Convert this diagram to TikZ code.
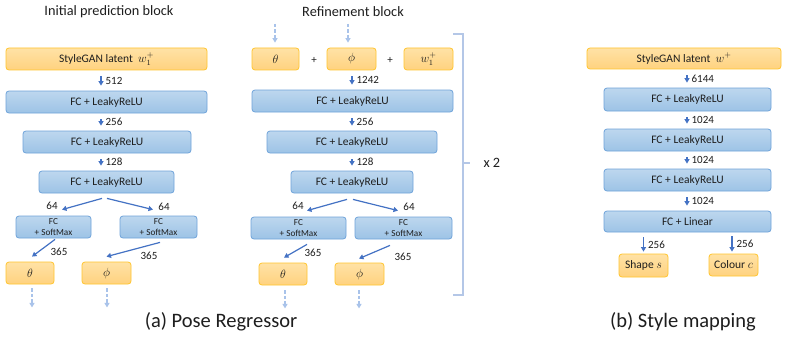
\documentclass[tikz,border=0pt]{standalone}
\usepackage{fontspec}
\setmainfont{Carlito}
\usetikzlibrary{arrows.meta}
\definecolor{bfillT}{HTML}{BDD7EE}
\definecolor{bfillB}{HTML}{9DC3E6}
\definecolor{bdraw}{HTML}{6FA3DA}
\definecolor{ofillT}{HTML}{FFE2A6}
\definecolor{ofillB}{HTML}{FFD27F}
\definecolor{odraw}{HTML}{FFC52E}
\definecolor{arrc}{HTML}{4472C4}
\definecolor{dashc}{HTML}{A9C3EA}
\definecolor{brc}{HTML}{B4C7E7}
\definecolor{txt}{HTML}{1E1E1E}
\tikzset{
  base/.style={rounded corners=3pt, line width=0.8pt, inner sep=0pt, text=txt, font=\fontsize{11.5}{13}\selectfont},
  bbox/.style={base, draw=bdraw, top color=bfillT, bottom color=bfillB},
  obox/.style={base, draw=odraw, top color=ofillT, bottom color=ofillB},
  smbox/.style={bbox, font=\fontsize{9.2}{10.2}\selectfont, align=center},
  arr/.style={draw=arrc, line width=1.2pt, -{Triangle[length=4.5pt,width=5pt]}},
  varr/.style={arr, shorten <=6pt, shorten >=5pt},
  darr/.style={draw=dashc, line width=1.2pt, dash pattern=on 3.5pt off 2pt, -{Triangle[length=4.5pt,width=5pt]}},
  lbl/.style={text=txt, font=\fontsize{11}{13}\selectfont, inner sep=0pt},
  ttl/.style={text=txt, font=\fontsize{14.3}{17}\selectfont},
  captxt/.style={text=txt, font=\fontsize{20.5}{24}\selectfont},
}
\begin{document}
\begin{tikzpicture}[x=1pt,y=-1pt]
\useasboundingbox[fill=white] (0,0) rectangle (787,337);

% ---------- Initial prediction block ----------
\node[ttl] (t1) at (109,12) {Initial prediction block};
\node[obox, minimum width=201pt, minimum height=22pt] (lat1) at (106.5,59) {StyleGAN latent \ $w_1^+$};
\node[bbox, minimum width=201pt, minimum height=22pt] (fc1a) at (106.5,102) {FC + LeakyReLU};
\node[bbox, minimum width=168pt, minimum height=22pt] (fc2a) at (107,142) {FC + LeakyReLU};
\node[bbox, minimum width=135pt, minimum height=22pt] (fc3a) at (106.5,182) {FC + LeakyReLU};
\node[smbox, minimum width=75pt, minimum height=22pt] (smLa) at (53.5,227) {FC\\+ SoftMax};
\node[smbox, minimum width=77pt, minimum height=22pt] (smRa) at (158.5,227) {FC\\+ SoftMax};
\node[obox, minimum width=48pt, minimum height=22pt] (tha) at (30,273) {$\theta$};
\node[obox, minimum width=49pt, minimum height=22pt] (pha) at (106.5,273) {$\phi$};

\draw[varr] ([xshift=-5.5pt]lat1.south) -- ([xshift=-5.5pt]fc1a.north) node[lbl, midway, right=4pt] {512};
\draw[varr] ([xshift=-5.5pt]fc1a.south) -- ([xshift=-6pt]fc2a.north) node[lbl, midway, right=4pt] {256};
\draw[varr] ([xshift=-6pt]fc2a.south) -- ([xshift=-5.5pt]fc3a.north) node[lbl, midway, right=4pt] {128};
\draw[arr] ([xshift=-4.5pt,yshift=-5pt]fc3a.south) -- ([xshift=8.5pt,yshift=6pt]smLa.north);
\draw[arr] ([xshift=0.5pt,yshift=-5pt]fc3a.south) -- ([xshift=-5.5pt,yshift=6pt]smRa.north);
\node[lbl] (l64a) at (52,206) {64};
\node[lbl] (l64b) at (164,207) {64};
\draw[arr] ([xshift=1.5pt,yshift=-1pt]smLa.south) -- ([xshift=2pt,yshift=5pt]tha.north);
\draw[arr] ([xshift=1.5pt,yshift=-4pt]smRa.south) -- ([yshift=5pt]pha.north);
\node[lbl] (l365a) at (59,252) {365};
\node[lbl] (l365b) at (149,256) {365};
\draw[darr] ([xshift=2pt,yshift=-4pt]tha.south) -- ++(0,19) coordinate (oa1);
\draw[darr] ([xshift=0.5pt,yshift=-4pt]pha.south) -- ++(0,19) coordinate (oa2);
\node[captxt] (capa) at (221,322) {(a) Pose Regressor};

% ---------- Refinement block ----------
\node[ttl] (t2) at (353,12) {Refinement block};
\node[obox, minimum width=47pt, minimum height=22pt] (thb0) at (275.5,59) {$\theta$};
\node[obox, minimum width=49pt, minimum height=22pt] (phb0) at (351.5,59) {$\phi$};
\node[obox, minimum width=49pt, minimum height=22pt] (wb) at (428.5,59) {$w_1^+$};
\node[lbl] (p1) at (314,60) {+};
\node[lbl] (p2) at (390,60) {+};
\coordinate (ib1) at (275,24);
\coordinate (ib2) at (348,24);
\draw[darr] (ib1) -- ([xshift=-0.5pt,yshift=5pt]thb0.north);
\draw[darr] (ib2) -- ([xshift=-3.5pt,yshift=5pt]phb0.north);
\node[bbox, minimum width=201pt, minimum height=22pt] (fc1b) at (352.5,101) {FC + LeakyReLU};
\node[bbox, minimum width=170pt, minimum height=22pt] (fc2b) at (352,142) {FC + LeakyReLU};
\node[bbox, minimum width=122pt, minimum height=22pt] (fc3b) at (352,182) {FC + LeakyReLU};
\node[smbox, minimum width=95pt, minimum height=22pt] (smLb) at (298.5,228) {FC\\+ SoftMax};
\node[smbox, minimum width=97pt, minimum height=22pt] (smRb) at (403.5,228) {FC\\+ SoftMax};
\node[obox, minimum width=48pt, minimum height=22pt] (thb) at (283,274) {$\theta$};
\node[obox, minimum width=49pt, minimum height=22pt] (phb) at (359.5,274) {$\phi$};

\draw[varr] ([xshift=0.5pt]phb0.south) -- ([xshift=-0.5pt]fc1b.north) node[lbl, midway, right=4pt] {1242};
\draw[varr] ([xshift=-0.5pt]fc1b.south) -- (fc2b.north) node[lbl, midway, right=4pt] {256};
\draw[varr] (fc2b.south) -- (fc3b.north) node[lbl, midway, right=4pt] {128};
\draw[arr] ([xshift=-5pt,yshift=-6pt]fc3b.south) -- ([xshift=8.5pt,yshift=6pt]smLb.north);
\draw[arr] ([xshift=1pt,yshift=-6pt]fc3b.south) -- ([xshift=-5.5pt,yshift=6pt]smRb.north);
\node[lbl] (l64c) at (298,206) {64};
\node[lbl] (l64d) at (409,207) {64};
\draw[arr] ([xshift=8.5pt,yshift=-5pt]smLb.south) -- ([xshift=1pt,yshift=5pt]thb.north);
\draw[arr] ([xshift=-13.5pt,yshift=-6pt]smRb.south) -- ([xshift=-0.5pt,yshift=4pt]phb.north);
\node[lbl] (l365c) at (313,253) {365};
\node[lbl] (l365d) at (403,257) {365};
\draw[darr] ([xshift=2pt,yshift=-5pt]thb.south) -- ++(0,18) coordinate (ob1);
\draw[darr] ([xshift=-0.5pt,yshift=-5pt]phb.south) -- ++(0,18) coordinate (ob2);

\coordinate (brT) at (453,34);
\coordinate (brB) at (453,295);
\draw[draw=brc, line width=1.5pt] (brT) -- ++(10,0) coordinate (brTR) -- (brTR |- brB) coordinate (brBR) -- (brB);
\draw[draw=brc, line width=1.5pt] (463,163) coordinate (brM) -- ++(7,0) coordinate (brMR);
\node[ttl, anchor=west] (x2) at (480,163) {x 2};

% ---------- Style mapping ----------
\node[obox, minimum width=194pt, minimum height=21pt] (latc) at (684,58.5) {StyleGAN latent \ $w^+$};
\node[bbox, minimum width=167pt, minimum height=23pt] (fc1c) at (687.5,99.5) {FC + LeakyReLU};
\node[bbox, minimum width=167pt, minimum height=22pt] (fc2c) at (687.5,140) {FC + LeakyReLU};
\node[bbox, minimum width=167pt, minimum height=22pt] (fc3c) at (687.5,180) {FC + LeakyReLU};
\node[bbox, minimum width=167pt, minimum height=21pt] (fc4c) at (687.5,221.5) {FC + Linear};
\node[obox, minimum width=49pt, minimum height=23pt] (shp) at (643.5,265.5) {Shape $s$};
\node[obox, minimum width=49pt, minimum height=22pt] (col) at (733.5,265) {Colour $c$};
\draw[varr] ([xshift=3pt]latc.south) -- ([xshift=-0.5pt]fc1c.north) node[lbl, midway, right=4pt] {6144};
\draw[varr] ([xshift=-0.5pt]fc1c.south) -- ([xshift=-0.5pt]fc2c.north) node[lbl, midway, right=4pt] {1024};
\draw[varr] ([xshift=-0.5pt]fc2c.south) -- ([xshift=-0.5pt]fc3c.north) node[lbl, midway, right=4pt] {1024};
\draw[varr] ([xshift=-0.5pt]fc3c.south) -- ([xshift=-0.5pt]fc4c.north) node[lbl, midway, right=4pt] {1024};
\draw[arr] ([yshift=-5pt]fc4c.south -| shp.north) -- ([yshift=2pt]shp.north) node[lbl, midway, right=4pt] {256};
\draw[arr] ([xshift=-1.5pt,yshift=-4pt]fc4c.south -| col.north) -- ([xshift=-1.5pt,yshift=2pt]col.north) node[lbl, midway, right=4pt] {256};
\node[captxt] (capb) at (683,322) {(b) Style mapping};
\end{tikzpicture}
\end{document}
